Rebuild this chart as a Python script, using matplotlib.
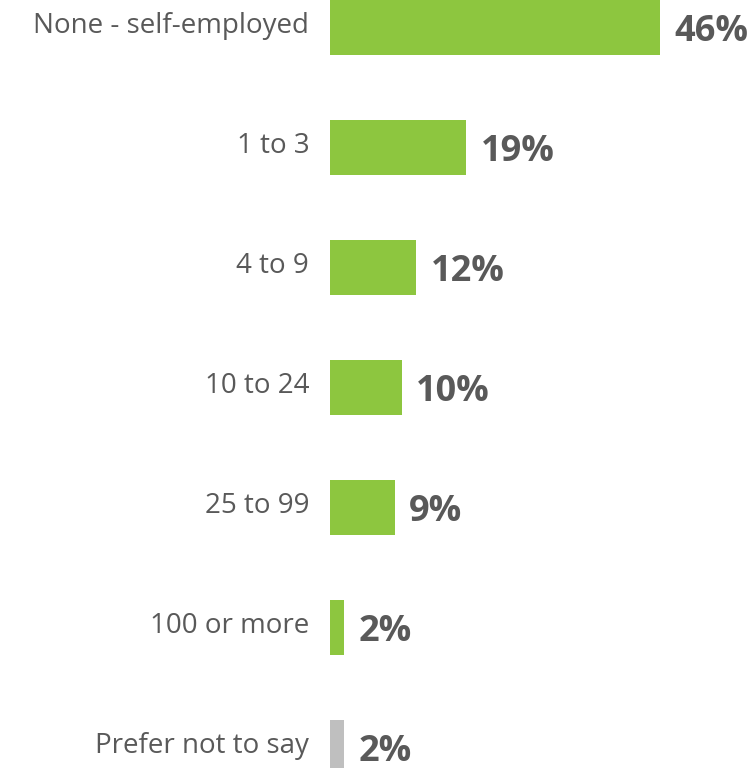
import matplotlib.pyplot as plt

plt.rcParams['font.family'] = ['Open Sans', 'DejaVu Sans']

categories = ["None - self-employed", "1 to 3", "4 to 9", "10 to 24",
              "25 to 99", "100 or more", "Prefer not to say"]
shares = [46, 19, 12, 10, 9, 2, 2]
bar_colors = ["#8DC63F"] * 6 + ["#BFBFBF"]

TEXT = "#595959"
W, H = 752, 768

fig = plt.figure(figsize=(W / 100, H / 100), dpi=100)
# axes starts where the bars start; category labels sit in the left margin
ax = fig.add_axes([330 / W, 0, (W - 330) / W, 1])

px_per_pct = 330 / 46
ax.set_xlim(0, (W - 330) / px_per_pct)
ax.set_ylim((H - 27) / 120, -27 / 120)

ypos = list(range(len(categories)))
ax.barh(ypos, shares, height=55 / 120, color=bar_colors)

for y, cat, val in zip(ypos, categories, shares):
    ax.annotate(cat, xy=(0, y), xytext=(-15, -4), textcoords="offset points",
                ha="right", va="baseline", fontsize=20, color=TEXT)
    ax.annotate(f"{val}%", xy=(val, y), xytext=(10.5, -10.4), textcoords="offset points",
                ha="left", va="baseline", fontsize=26, fontweight="bold", color=TEXT)

ax.axis("off")
fig.savefig("out.png", dpi=100)
